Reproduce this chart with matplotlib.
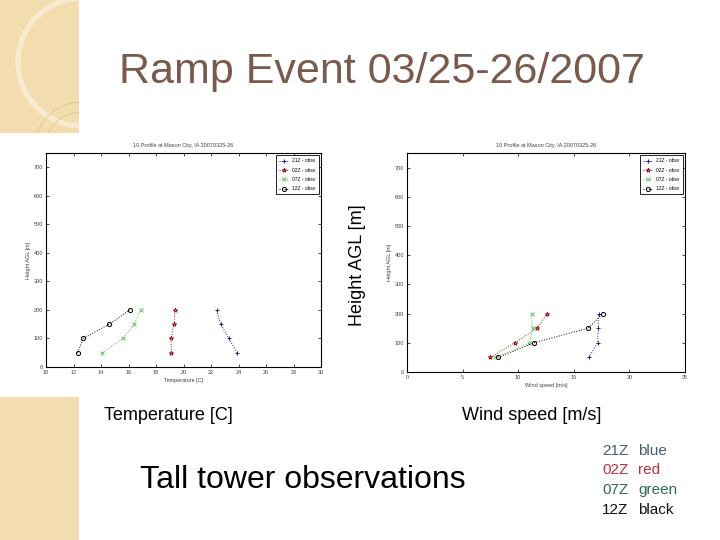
import matplotlib
matplotlib.use('Agg')
import matplotlib.pyplot as plt
from matplotlib.patches import Rectangle, Arc

plt.rcParams['font.family'] = ['Liberation Sans', 'DejaVu Sans']

# tall tower obs, Mason City IA, 2007-03-25/26
heights = [50, 100, 150, 200]
temp_21z = [23.9, 23.3, 22.7, 22.4]
temp_02z = [19.1, 19.1, 19.3, 19.4]
temp_07z = [14.1, 15.6, 16.4, 16.9]
temp_12z = [12.3, 12.7, 14.6, 16.1]
wind_21z = [16.35, 17.15, 17.2, 17.25]
wind_02z = [7.5, 9.7, 11.7, 12.6]
wind_07z = [7.9, 11.0, 11.3, 11.2]
wind_12z = [8.2, 11.4, 16.3, 17.6]

series_names = ['21Z - obsv', '02Z - obsv', '07Z - obsv', '12Z - obsv']
temp_xticks = [10, 12, 14, 16, 18, 20, 22, 24, 26, 28, 30]
wind_xticks = [0, 5, 10, 15, 20, 25]
yticks = [0, 100, 200, 300, 400, 500, 600, 700]

key_codes = ['21Z', '02Z', '07Z', '12Z']
key_words = ['blue', 'red', 'green', 'black']

W, H = 720, 540
fig = plt.figure(figsize=(7.2, 5.4), dpi=100)
fig.patch.set_facecolor('white')

def fx(px):
    return px / W

def fy(py):
    return 1 - py / H

# beige strip on the left of the slide
bg = fig.add_axes([0, 0, 1, 1], zorder=-5)
bg.set_xlim(0, W)
bg.set_ylim(H, 0)
bg.axis('off')
bg.add_patch(Rectangle((0, 0), 79, 133, color='#f3dcae', lw=0))
bg.add_patch(Rectangle((0, 397), 79, 143, color='#f3dcae', lw=0))
for (cx, cy), r, lw, c in [((82, 62), 64, 4, '#f8ead0'),
                           ((82, 150), 48, 0.7, '#e2c690'),
                           ((82, 150), 38, 0.7, '#e2c690')]:
    a = Arc((cx, cy), 2 * r, 2 * r, color=c, lw=lw)
    bg.add_patch(a)
    a.set_clip_path(Rectangle((0, 0), 79, 133, transform=bg.transData))

colors = ['#1a1a8c', '#a01818', '#5cc05c', 'black']
markers = ['+', '*', 'x', 'o']

def profile(ax, data, xlim, xticks, xlabel):
    for vals, c, m, name in zip(data, colors, markers, series_names):
        ax.plot(vals, heights, linestyle=':', color=c, marker=m, markersize=3,
                markerfacecolor='none', markeredgewidth=0.7, lw=0.7, label=name)
    ax.set_xlim(xlim)
    ax.set_ylim(0, 750)
    ax.set_xticks(xticks)
    ax.set_yticks(yticks)
    ax.tick_params(direction='in', top=True, right=True, labelsize=4,
                   length=2, width=0.5, labelcolor='#444444', pad=2)
    for s in ax.spines.values():
        s.set_linewidth(0.8)
    ax.set_xlabel(xlabel, fontsize=4, color='#444444', labelpad=2)
    ax.set_ylabel('Height AGL [m]', fontsize=4, color='#444444', labelpad=2)
    ax.set_title('10 Profile at Mason City, IA 20070325-26', fontsize=4,
                 color='#444444', pad=4)
    leg = ax.legend(loc='upper right', fontsize=3.5, frameon=True,
                    borderpad=0.6, handlelength=2, labelspacing=0.9,
                    fancybox=False, edgecolor='black')
    leg.get_frame().set_linewidth(0.6)
    leg.get_frame().set_alpha(1)

ax1 = fig.add_axes([fx(46), fy(367), fx(321 - 46), (367 - 153) / H])
profile(ax1, [temp_21z, temp_02z, temp_07z, temp_12z], (10, 30),
        temp_xticks, 'Temperature [C]')

ax2 = fig.add_axes([fx(407), fy(372), fx(685 - 407), (372 - 153) / H])
profile(ax2, [wind_21z, wind_02z, wind_07z, wind_12z], (0, 25),
        wind_xticks, 'Wind speed [m/s]')

# slide texts
fig.text(fx(382), fy(83), 'Ramp Event 03/25-26/2007', fontsize=31,
         color='#7b5a4e', ha='center', va='baseline')
fig.text(fx(358), fy(265), 'Height AGL [m]', fontsize=13, rotation=90,
         ha='center', va='center')
fig.text(fx(104), fy(416), 'Temperature [C]', fontsize=13, ha='left', va='center')
fig.text(fx(462), fy(416), 'Wind speed [m/s]', fontsize=13, ha='left', va='center')
fig.text(fx(140), fy(480), 'Tall tower observations', fontsize=23,
         ha='left', va='center')

key_colors = ['#4a5d6e', '#b83040', '#2f6b52', '#111111']
for i, (code, word, c) in enumerate(zip(key_codes, key_words, key_colors)):
    y = fy(451 + i * 19.5)
    fig.text(fx(602), y, code, fontsize=11, color=c, ha='left', va='center')
    fig.text(fx(638), y, word, fontsize=11, color=c, ha='left', va='center')

fig.savefig('out.png', dpi=100)
